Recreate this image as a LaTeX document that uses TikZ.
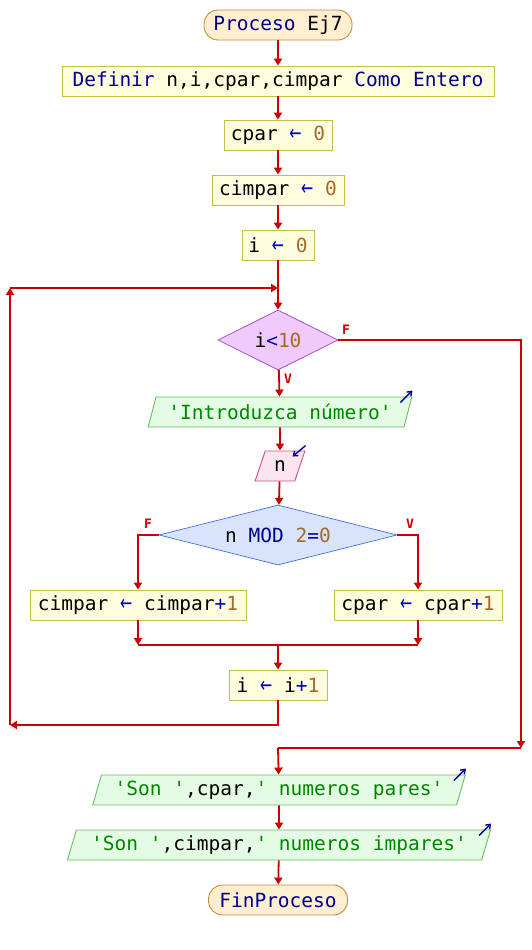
\documentclass[tikz,border=0pt]{standalone}
\usepackage{fontspec}
\newfontfamily\pmono{DejaVu Sans Mono}
\newfontfamily\pmonolab{DejaVu Sans Mono}
\newfontfamily\psym{DejaVu Sans}
\usetikzlibrary{shapes.geometric,arrows.meta}
\definecolor{procF}{RGB}{253,253,222}
\definecolor{procB}{RGB}{200,190,70}
\definecolor{termF}{RGB}{255,238,208}
\definecolor{termB}{RGB}{200,140,60}
\definecolor{dAF}{RGB}{240,202,250}
\definecolor{dAB}{RGB}{150,70,200}
\definecolor{dBF}{RGB}{215,228,252}
\definecolor{dBB}{RGB}{70,110,220}
\definecolor{outF}{RGB}{228,252,228}
\definecolor{outB}{RGB}{100,190,100}
\definecolor{inF}{RGB}{252,228,240}
\definecolor{inB}{RGB}{200,80,130}
\definecolor{flowC}{RGB}{204,0,0}
\definecolor{kwC}{RGB}{0,0,140}
\definecolor{numC}{RGB}{165,105,40}
\definecolor{strC}{RGB}{0,135,0}
\definecolor{opC}{RGB}{0,0,190}
\definecolor{iconC}{RGB}{0,0,150}
\newcommand\PKw[1]{\textcolor{kwC}{#1}}
\newcommand\PNum[1]{\textcolor{numC}{#1}}
\newcommand\PStr[1]{\textcolor{strC}{#1}}
\newcommand\POp[1]{\textcolor{opC}{#1}}
\newcommand\PAs{\textcolor{opC}{\psym\scalebox{0.75}[1.1]{←}}}
\newcommand\PQ{\textquotesingle}
\begin{document}
\begin{tikzpicture}[x=1pt,y=-1pt,
  every node/.style={font=\pmono\fontsize{19.5}{20}\selectfont, inner sep=2pt},
  procbox/.style={rectangle, draw=procB, fill=procF, line width=0.9pt, minimum height=30},
  termbox/.style={rectangle, rounded corners=14pt, draw=termB, fill=termF, line width=0.9pt, minimum height=30},
  decA/.style={diamond, aspect=2, draw=dAB, fill=dAF, line width=0.7pt, inner sep=0pt, minimum width=120, minimum height=60},
  decB/.style={diamond, aspect=4, draw=dBB, fill=dBF, line width=0.7pt, inner sep=0pt, minimum width=238, minimum height=60},
  outbox/.style={trapezium, trapezium left angle=70, trapezium right angle=110, trapezium stretches=true, draw=outB, fill=outF, line width=0.9pt, minimum height=30},
  inbox/.style={trapezium, trapezium left angle=70, trapezium right angle=110, trapezium stretches=true, draw=inB, fill=inF, line width=0.9pt, minimum height=30},
  line/.style={draw=flowC, line width=1.8pt},
  flow/.style={line, -{Triangle[length=7pt,width=8pt]}},
  icon/.style={draw=iconC, line width=1.4pt, -{Straight Barb[length=4pt,width=6pt]}},
  lab/.style={text=flowC, font=\pmonolab\bfseries\fontsize{13}{13}\selectfont, inner sep=0pt}]
\useasboundingbox (0,0) rectangle (532,950);

\node[termbox, minimum width=148] (start) at (278,25) {\PKw{Proceso} Ej7};
\node[procbox, minimum width=432] (def) at (278,81) {\PKw{Definir} n,i,cpar,cimpar \PKw{Como} \PKw{Entero}};
\node[procbox, minimum width=108] (cp0) at (278,135) {cpar \PAs\ \PNum{0}};
\node[procbox, minimum width=132] (ci0) at (278,190) {cimpar \PAs\ \PNum{0}};
\node[procbox, minimum width=72] (i0) at (278,245) {i \PAs\ \PNum{0}};
\node[decA] (w) at (278,340) {i\POp{<}\PNum{10}};
\node[outbox, minimum width=264] (msg) at (280,412) {\PStr{\PQ Introduzca número\PQ}};
\node[inbox, minimum width=50] (rn) at (280,466) {n};
\node[decB] (d2) at (278,535) {n \PKw{MOD} \PNum{2}\POp{=}\PNum{0}};
\node[procbox, minimum width=216] (cim) at (138,605) {cimpar \PAs\ cimpar\POp{+}\PNum{1}};
\node[procbox, minimum width=168] (cp1) at (418,605) {cpar \PAs\ cpar\POp{+}\PNum{1}};
\node[procbox, minimum width=98] (i1) at (278,685) {i \PAs\ i\POp{+}\PNum{1}};
\node[outbox, minimum width=374] (o1) at (279,790) {\PStr{\PQ Son \PQ},cpar,\PStr{\PQ\ numeros pares\PQ}};
\node[outbox, minimum width=424] (o2) at (279,845) {\PStr{\PQ Son \PQ},cimpar,\PStr{\PQ\ numeros impares\PQ}};
\node[termbox, minimum width=139] (fin) at (278,900) {\PKw{FinProceso}};

% icons
\coordinate (msgT) at (msg.top right corner);
\draw[icon] ([xshift=-12pt,yshift=-6pt]msgT) -- ([yshift=6pt]msgT);
\coordinate (o1T) at (o1.top right corner);
\draw[icon] ([xshift=-12pt,yshift=-6pt]o1T) -- ([yshift=6pt]o1T);
\coordinate (o2T) at (o2.top right corner);
\draw[icon] ([xshift=-12pt,yshift=-6pt]o2T) -- ([yshift=6pt]o2T);
\coordinate (rnT) at (rn.top right corner);
\draw[icon] ([yshift=5pt]rnT) -- ([xshift=-13pt,yshift=-6pt]rnT);

% coordinates
\coordinate (j1) at (278,288);
\coordinate (lb) at (10,725);
\coordinate (lt) at (10,288);
\coordinate (rb) at (521,748);
\coordinate (mb) at (278,748);
\coordinate (jl) at (138,645);
\coordinate (jr) at (418,645);
\coordinate (jm) at (278,645);

% connectors
\draw[flow] (start) -- (def);
\draw[flow] (def) -- (cp0);
\draw[flow] (cp0) -- (ci0);
\draw[flow] (ci0) -- (i0);
\draw[line] (i0) -- (j1);
\draw[flow] (j1) -- (w);
\draw[flow] (w) -- (msg);
\draw[flow] (msg) -- (rn);
\draw[flow] (rn) -- (d2);
\draw[flow] (d2.west) -| (cim);
\draw[flow] (d2.east) -| (cp1);
\draw[flow] (cim) -- (jl);
\draw[flow] (cp1) -- (jr);
\draw[line] (jl) -- (jr);
\draw[flow] (jm) -- (i1);
\draw[flow] (i1) |- (lb);
\draw[flow] (lb) -- (lt);
\draw[flow] (lt) -- (j1);
\draw[flow] (w.east) -| (rb);
\draw[line] (rb) -- (mb);
\draw[flow] (mb) -- (o1);
\draw[flow] (o1) -- (o2);
\draw[flow] (o2) -- (fin);

% labels
\node[lab] (lF1) at (346,330) {F};
\node[lab] (lV1) at (288,379) {V};
\node[lab] (lF2) at (148,524) {F};
\node[lab] (lV2) at (410,524) {V};
\end{tikzpicture}
\end{document}
